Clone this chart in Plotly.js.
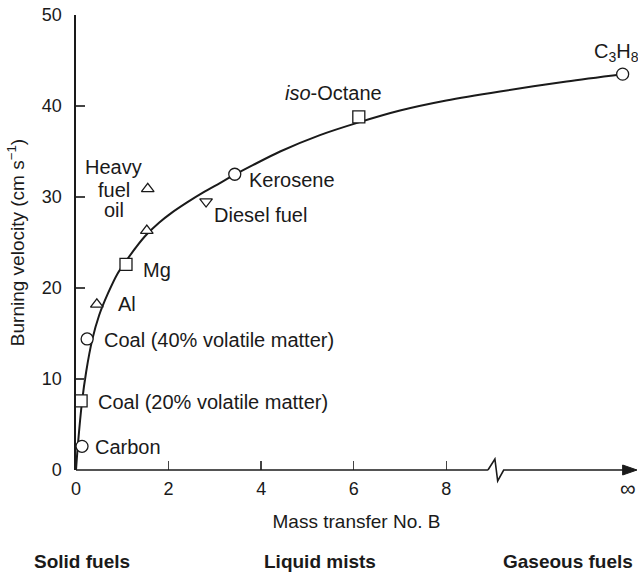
<!DOCTYPE html>
<html>
<head>
<meta charset="utf-8">
<script src="https://cdn.plot.ly/plotly-3.0.1.min.js"></script>
<style>html,body{margin:0;padding:0;background:#fff;}#chart{width:638px;height:573px;}</style>
</head>
<body>
<div id="chart"></div>
<script>
// Fitted curve
const curveB = [0, 0.04, 0.13, 0.22, 0.35, 0.5, 0.69, 0.9, 1.1, 1.3, 1.53, 1.8, 2.05, 2.4, 2.75, 3.1, 3.41, 3.82, 4.41, 5.27, 6.11, 7.0, 8.0, 9.16, 10.6, 11.81];
const curveV = [0, 2.7, 7.5, 10.8, 14.3, 17.0, 19.4, 21.6, 23.1, 24.5, 25.9, 27.2, 28.2, 29.4, 30.5, 31.5, 32.4, 33.5, 35.0, 36.8, 38.2, 39.5, 40.6, 41.6, 42.7, 43.5];

// Fuels, grouped by marker symbol
const circleNames = ["Carbon", "Coal (40% volatile matter)", "Kerosene", "C3H8"];
const circleB = [0.13, 0.24, 3.43, 11.81];
const circleV = [2.6, 14.4, 32.5, 43.5];

const squareNames = ["Coal (20% volatile matter)", "Mg", "iso-Octane"];
const squareB = [0.11, 1.08, 6.11];
const squareV = [7.6, 22.6, 38.8];

const triUpNames = ["Al", "(on curve)", "Heavy fuel oil"];
const triUpB = [0.45, 1.53, 1.55];
const triUpV = [18.2, 26.3, 30.9];

const triDownNames = ["Diesel fuel"];
const triDownB = [2.81];
const triDownV = [29.5];

// Axis ticks
const yTicks = [0, 10, 20, 30, 40, 50];
const xTicks = [0, 2, 4, 6, 8];
const xTickText = ["0", "2", "4", "6", "8"];
const infPos = [11.92];
const infText = ["∞"];

const FONT = "Liberation Sans, Arial, Helvetica, sans-serif";
const INK = "#1a1a1a";

function markerTrace(x, y, names, symbol, size) {
  return {
    x: x, y: y, text: names, type: "scatter", mode: "markers",
    cliponaxis: false, hoverinfo: "text",
    marker: {symbol: symbol, size: size, color: "#ffffff", line: {color: INK, width: 1.3}}
  };
}

const traces = [
  {x: curveB, y: curveV, type: "scatter", mode: "lines",
   line: {color: INK, width: 2, shape: "spline", smoothing: 0.8}, hoverinfo: "skip"},
  markerTrace(circleB, circleV, circleNames, "circle", 12),
  markerTrace(squareB, squareV, squareNames, "square", 12),
  markerTrace(triUpB, triUpV, triUpNames, "triangle-up", 11),
  markerTrace(triDownB, triDownV, triDownNames, "triangle-down", 11),
  {x: infPos, y: [0], xaxis: "x2", type: "scatter", mode: "markers",
   marker: {opacity: 0}, hoverinfo: "skip"}
];

const lbl = (x, y, text, anchor) => ({
  x: x, y: y, xref: "x", yref: "y", text: text, showarrow: false,
  xanchor: anchor || "left", yanchor: "middle",
  font: {family: FONT, size: 20, color: INK}
});

const cat = (x, text) => ({
  x: x, y: -0.202, xref: "paper", yref: "paper", text: "<b>" + text + "</b>", showarrow: false,
  xanchor: "center", yanchor: "middle", font: {family: FONT, size: 19, color: INK}
});

const annotations = [
  lbl(11.67, 45.9, "C<sub>3</sub>H<sub>8</sub>", "center"),
  lbl(5.57, 41.4, "<i>iso</i>-Octane", "center"),
  lbl(3.70, 31.9, "Kerosene"),
  lbl(2.94, 28.0, "Diesel fuel"),
  lbl(0.82, 33.3, "Heavy", "center"),
  lbl(0.82, 30.8, "fuel", "center"),
  lbl(0.82, 28.6, "oil", "center"),
  lbl(1.41, 22.0, "Mg"),
  lbl(0.87, 18.2, "Al"),
  lbl(0.56, 14.3, "Coal (40% volatile matter)"),
  lbl(0.43, 7.5, "Coal (20% volatile matter)"),
  lbl(0.37, 2.5, "Carbon"),
  cat(0.0107, "Solid fuels"),
  cat(0.435, "Liquid mists"),
  cat(0.877, "Gaseous fuels")
];

const shapes = [
  {type: "line", xref: "x", yref: "paper", x0: 0, x1: 8.9, y0: 0, y1: 0,
   line: {color: INK, width: 1.6}},
  {type: "path", xref: "x", yref: "paper", ysizemode: "pixel", yanchor: 0,
   path: "M8.9,0 L9.05,11 L9.11,-11 L9.24,0 L11.9,0",
   line: {color: INK, width: 1.6}},
  {type: "path", xref: "x", yref: "paper", ysizemode: "pixel", yanchor: 0,
   path: "M11.81,5 L12.12,0 L11.81,-5 Z",
   fillcolor: INK, line: {color: INK, width: 1}}
];

const layout = {
  width: 638, height: 573,
  margin: {l: 76, r: 1, t: 15, b: 103, pad: 0},
  paper_bgcolor: "#ffffff", plot_bgcolor: "#ffffff",
  showlegend: false,
  font: {family: FONT, color: INK},
  xaxis: {
    range: [0, 12.12], showgrid: false, zeroline: false, showline: false,
    tickmode: "array", tickvals: xTicks, ticktext: xTickText,
    ticks: "inside", ticklen: 9, tickwidth: 1.4, tickcolor: "#444",
    ticklabelstandoff: 6,
    tickfont: {family: FONT, size: 18, color: INK},
    title: {text: "Mass transfer No. B", font: {family: FONT, size: 19, color: INK}, standoff: 16}
  },
  xaxis2: {
    overlaying: "x", side: "bottom", range: [0, 12.12], showgrid: false, zeroline: false,
    showline: false, tickmode: "array", tickvals: infPos, ticktext: infText, ticks: "",
    ticklabelstandoff: 3,
    tickfont: {family: FONT, size: 22, color: INK}
  },
  yaxis: {
    range: [0, 50], showgrid: false, zeroline: false, showline: true,
    linecolor: INK, linewidth: 1.6,
    tickmode: "array", tickvals: yTicks,
    ticks: "inside", ticklen: 9, tickwidth: 1.4, tickcolor: "#444",
    ticklabelstandoff: 9,
    tickfont: {family: FONT, size: 18, color: INK},
    title: {text: "Burning velocity (cm s<sup>−1</sup>)", font: {family: FONT, size: 19, color: INK}, standoff: 12}
  },
  shapes: shapes,
  annotations: annotations
};

Plotly.newPlot("chart", traces, layout, {displayModeBar: false, staticPlot: true});
</script>
</body>
</html>
